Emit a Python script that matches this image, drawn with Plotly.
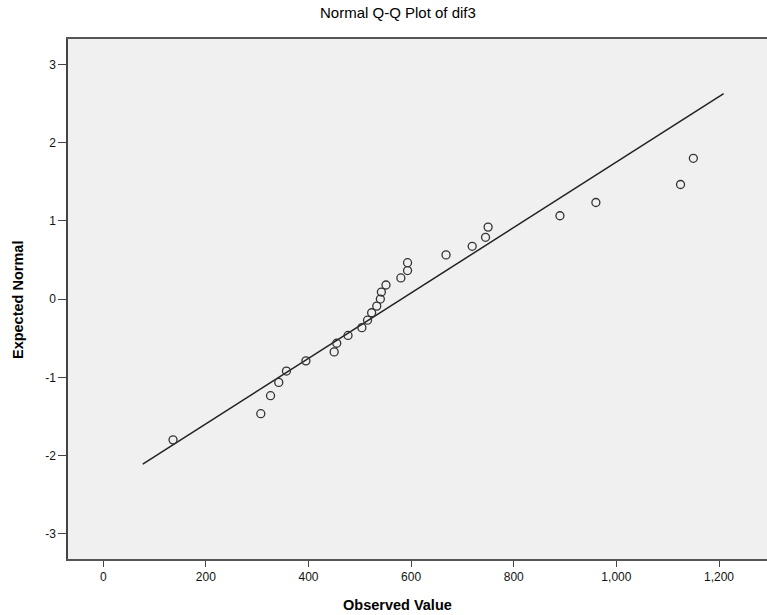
import plotly.graph_objects as go

# Observed values (dif3) and their expected normal scores
observed = [136, 307, 326, 342, 357, 395, 450, 455, 477, 504, 515, 523, 533,
            540, 542, 551, 580, 593, 593, 668, 719, 745, 750, 890, 960, 1125, 1150]
expected = [-1.80, -1.465, -1.235, -1.065, -0.92, -0.79, -0.675, -0.565, -0.465,
            -0.365, -0.27, -0.175, -0.09, 0.0, 0.09, 0.18, 0.27, 0.365, 0.465,
            0.565, 0.675, 0.79, 0.92, 1.065, 1.235, 1.465, 1.80]

# Reference line: mean and sd, drawn over this x span
line_mean = 581.2
line_sd = 239.1
line_x = [77, 1209]
line_y = [(v - line_mean) / line_sd for v in line_x]

x_tickvals = [0, 200, 400, 600, 800, 1000, 1200]
x_ticktext = ["0", "200", "400", "600", "800", "1,000", "1,200"]
y_tickvals = [-3, -2, -1, 0, 1, 2, 3]
y_ticktext = ["-3", "-2", "-1", "0", "1", "2", "3"]

FONT = "Liberation Sans, Arial, sans-serif"

fig = go.Figure()
fig.add_trace(go.Scatter(x=line_x, y=line_y, mode="lines",
                         line=dict(color="#222222", width=1.5),
                         hoverinfo="skip", showlegend=False))
fig.add_trace(go.Scatter(x=observed, y=expected, mode="markers",
                         marker=dict(symbol="circle-open", size=8,
                                     line=dict(color="#333333", width=1.3),
                                     color="#333333"),
                         showlegend=False))

fig.update_layout(
    width=767, height=615,
    margin=dict(l=68, r=0, t=39, b=56),
    paper_bgcolor="white",
    plot_bgcolor="#f0f0f0",
    font=dict(family=FONT, size=12, color="#111111"),
    showlegend=False,
    xaxis=dict(range=[-68.7, 1293.5], showgrid=False, zeroline=False,
               tickmode="array", tickvals=x_tickvals, ticktext=x_ticktext,
               ticks="outside", ticklen=6, tickcolor="#444444", tickwidth=1.3,
               showline=True, mirror=True, linecolor="#555555", linewidth=1.5,
               tickfont=dict(size=12, color="#111111")),
    yaxis=dict(range=[-3.323, 3.325], showgrid=False, zeroline=False,
               tickmode="array", tickvals=y_tickvals, ticktext=y_ticktext,
               ticks="outside", ticklen=8, tickcolor="#444444", tickwidth=1.3,
               showline=True, mirror=False, linecolor="#444444", linewidth=1.5,
               tickfont=dict(size=12, color="#111111")),
    annotations=[
        dict(text="Normal Q-Q Plot of dif3", xref="paper", yref="paper",
             x=0.472, y=1, yshift=27, xanchor="center", yanchor="middle",
             showarrow=False, font=dict(family=FONT, size=15, color="#000000")),
        dict(text="<b>Observed Value</b>", xref="paper", yref="paper",
             x=0.472, y=0, yshift=-46, xanchor="center", yanchor="middle",
             showarrow=False, font=dict(family=FONT, size=14.5, color="#000000")),
        dict(text="<b>Expected Normal</b>", xref="paper", yref="paper",
             x=0, xshift=-50, y=0.498, xanchor="center", yanchor="middle",
             textangle=-90, showarrow=False,
             font=dict(family=FONT, size=14.5, color="#000000")),
    ],
)

fig.write_html("out.html")
